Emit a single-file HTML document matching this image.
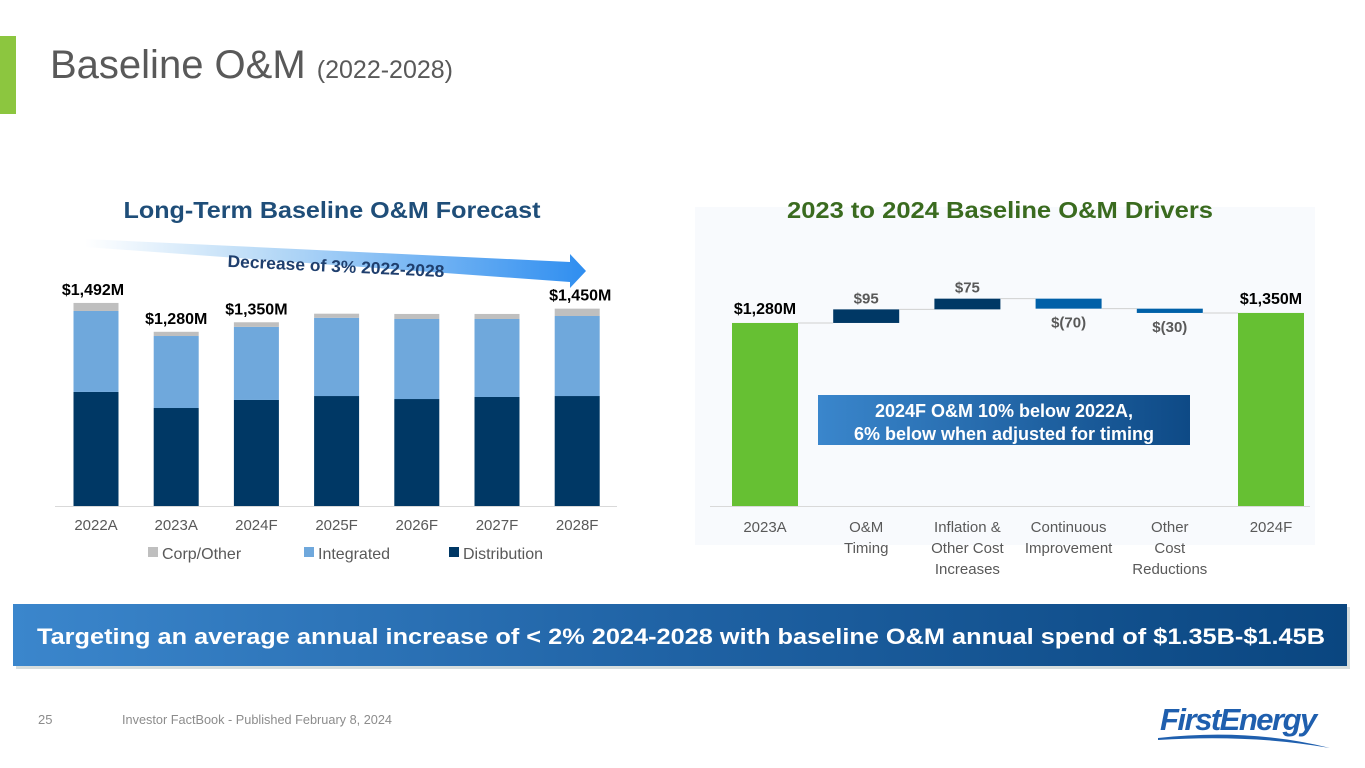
<!DOCTYPE html>
<html><head><meta charset="utf-8"><style>
html,body{margin:0;padding:0;background:#fff;}
svg{display:block;font-family:"Liberation Sans",Arial,sans-serif;}
</style></head><body>
<svg id="s" width="1365" height="768" viewBox="0 0 1365 768">
<defs>
<linearGradient id="arrowG" x1="0" x2="1" y1="0" y2="0"><stop offset="0" stop-color="#fff"/><stop offset="0.35" stop-color="#bcdcf7"/><stop offset="1" stop-color="#2f8ef0"/></linearGradient>
<linearGradient id="banG" x1="0" x2="1"><stop offset="0" stop-color="#3b86cc"/><stop offset="0.5" stop-color="#1f62a4"/><stop offset="1" stop-color="#0a4680"/></linearGradient>
<linearGradient id="boxG" x1="0" x2="1"><stop offset="0" stop-color="#3a86cc"/><stop offset="1" stop-color="#0e4a86"/></linearGradient>
</defs>
<rect x="0" y="36" width="16" height="78" fill="#8cc63f"/>
<text x="50" y="78" font-size="40" fill="#595959">Baseline O&amp;M <tspan font-size="25">(2022-2028)</tspan></text>

<rect x="695" y="207" width="620" height="338" fill="#f8fafd"/>
<text x="332" y="218" font-size="23" font-weight="bold" fill="#1f4e79" text-anchor="middle" textLength="417" lengthAdjust="spacingAndGlyphs">Long-Term Baseline O&amp;M Forecast</text>
<text x="1000" y="218" font-size="23" font-weight="bold" fill="#3a6b1f" text-anchor="middle" textLength="426" lengthAdjust="spacingAndGlyphs">2023 to 2024 Baseline O&amp;M Drivers</text>

<polygon points="85,239 570,262 570,254 586,271 570,288 570,282 85,247" fill="url(#arrowG)"/>
<text x="336" y="272" font-size="17" font-weight="bold" fill="#1f3f6e" text-anchor="middle" textLength="217" lengthAdjust="spacingAndGlyphs" transform="rotate(2.7 336 266)">Decrease of 3% 2022-2028</text>

<g id="left"></g>
<g id="right"></g>

<rect x="818" y="395" width="372" height="50" fill="url(#boxG)"/>
<text x="1004" y="417" font-size="18" font-weight="bold" fill="#fff" text-anchor="middle">2024F O&amp;M 10% below 2022A,</text>
<text x="1004" y="440" font-size="18" font-weight="bold" fill="#fff" text-anchor="middle">6% below when adjusted for timing</text>

<rect x="16" y="607" width="1334" height="62" fill="#9aa" opacity="0.4"/>
<rect x="13" y="604" width="1334" height="62" fill="url(#banG)"/>
<text x="681" y="644" font-size="22" font-weight="bold" fill="#fff" text-anchor="middle" textLength="1288" lengthAdjust="spacingAndGlyphs">Targeting an average annual increase of &lt; 2% 2024-2028 with baseline O&amp;M annual spend of $1.35B-$1.45B</text>

<text x="38" y="724" font-size="13" fill="#8c8c8c">25</text>
<text x="122" y="724" font-size="13" fill="#8c8c8c" textLength="270" lengthAdjust="spacingAndGlyphs">Investor FactBook - Published February 8, 2024</text>
<text x="1160" y="730" font-size="31" font-weight="bold" font-style="italic" fill="#1f5fae" letter-spacing="-1.5">FirstEnergy</text>
<path d="M1158 738 Q1250 728 1330 748 Q1250 734 1158 740Z" fill="#1f5fae"/>
</svg>
<script>
const years = ["2022A","2023A","2024F","2025F","2026F","2027F","2028F"];
const distribution = [838,720,779,808,786,801,808];
const integrated = [595,529,537,575,588,573,588];
const corpOther = [59,31,34,30,37,37,54];
const totalLabels = ["$1,492M","$1,280M","$1,350M","","","","$1,450M"];

const wfCats = [["2023A"],["O&M","Timing"],["Inflation &","Other Cost","Increases"],["Continuous","Improvement"],["Other","Cost","Reductions"],["2024F"]];
const wfStart = 1280;
const wfDeltas = [95,75,-70,-30];
const wfEnd = 1350;
const wfLabels = ["$1,280M","$95","$75","$(70)","$(30)","$1,350M"];

const NS="http://www.w3.org/2000/svg";
function mk(parent,tag,attrs,txt){const e=document.createElementNS(NS,tag);for(const k in attrs)e.setAttribute(k,attrs[k]);if(txt!==undefined)e.textContent=txt;parent.appendChild(e);return e;}

// left chart
const L=document.getElementById('left');
const base=506, ls=0.1361;
const lx=i=>96+i*80.2;
const ly=v=>base-v*ls;
mk(L,'line',{x1:55,x2:617,y1:base+0.5,y2:base+0.5,stroke:'#d9d9d9'});
years.forEach((y,i)=>{
  const x=lx(i)-22.5;
  let r=mk(L,'rect',{x:x,y:ly(distribution[i]),width:45,height:distribution[i]*ls,fill:'#003865'});
  
  
  r=mk(L,'rect',{x:x,y:ly(distribution[i]+integrated[i]),width:45,height:integrated[i]*ls,fill:'#6fa8dc'});
  
  
  const tot=distribution[i]+integrated[i]+corpOther[i];
  r=mk(L,'rect',{x:x,y:ly(tot),width:45,height:corpOther[i]*ls,fill:'#bfbfbf'});
  
  
  let t=mk(L,'text',{x:lx(i),y:530,'font-size':15,fill:'#595959','text-anchor':'middle'},y);
  
  
  if(totalLabels[i]){
    t=mk(L,'text',{x:lx(i)-(i==0?3:i==6?-3:0),y:ly(tot)-8,'font-size':16,'font-weight':'bold',fill:'#000','text-anchor':'middle'},totalLabels[i]);
    
    
  }
});
[["Corp/Other","#bfbfbf",148],["Integrated","#6fa8dc",304],["Distribution","#003865",449]].forEach(l=>{
  const g=mk(L,'g',{});
  
  
  mk(g,'rect',{x:l[2],y:547,width:10,height:10,fill:l[1]});
  mk(g,'text',{x:l[2]+14,y:559,'font-size':16,fill:'#595959'},l[0]);
});

// waterfall
const R=document.getElementById('right');
const ws=0.143;
const wx=i=>765+i*101.2;
const wy=v=>base-v*ws;
mk(R,'line',{x1:710,x2:1310,y1:base+0.5,y2:base+0.5,stroke:'#d9d9d9'});
let run=wfStart;
let r=mk(R,'rect',{x:wx(0)-33,y:wy(wfStart),width:66,height:wfStart*ws,fill:'#66c033'});


wfDeltas.forEach((d,k)=>{
  const i=k+1;
  const top=Math.max(run,run+d), bot=Math.min(run,run+d);
  mk(R,'line',{x1:wx(i-1)+33,x2:wx(i)-33,y1:wy(run),y2:wy(run),stroke:'#d0d0d0'});
  const b=mk(R,'rect',{x:wx(i)-33,y:wy(top),width:66,height:(top-bot)*ws,fill:d>0?'#003865':'#0060a8'});
  
  
  const t=mk(R,'text',{x:wx(i),y:d>0?wy(top)-6:wy(bot)+19,'font-size':15,'font-weight':'bold',fill:'#595959','text-anchor':'middle'},wfLabels[i]);
  
  
  run+=d;
});
mk(R,'line',{x1:wx(4)+33,x2:wx(5)-33,y1:wy(run),y2:wy(run),stroke:'#d0d0d0'});
r=mk(R,'rect',{x:wx(5)-33,y:wy(wfEnd),width:66,height:wfEnd*ws,fill:'#66c033'});


let t=mk(R,'text',{x:wx(0),y:wy(wfStart)-9,'font-size':16,'font-weight':'bold',fill:'#000','text-anchor':'middle'},wfLabels[0]);


t=mk(R,'text',{x:wx(5),y:wy(wfEnd)-9,'font-size':16,'font-weight':'bold',fill:'#000','text-anchor':'middle'},wfLabels[5]);


wfCats.forEach((c,i)=>{
  c.forEach((line,j)=>{
    const tt=mk(R,'text',{x:wx(i),y:532+j*21,'font-size':15,fill:'#595959','text-anchor':'middle'},line);
    
    
  });
});
</script>
</body></html>
